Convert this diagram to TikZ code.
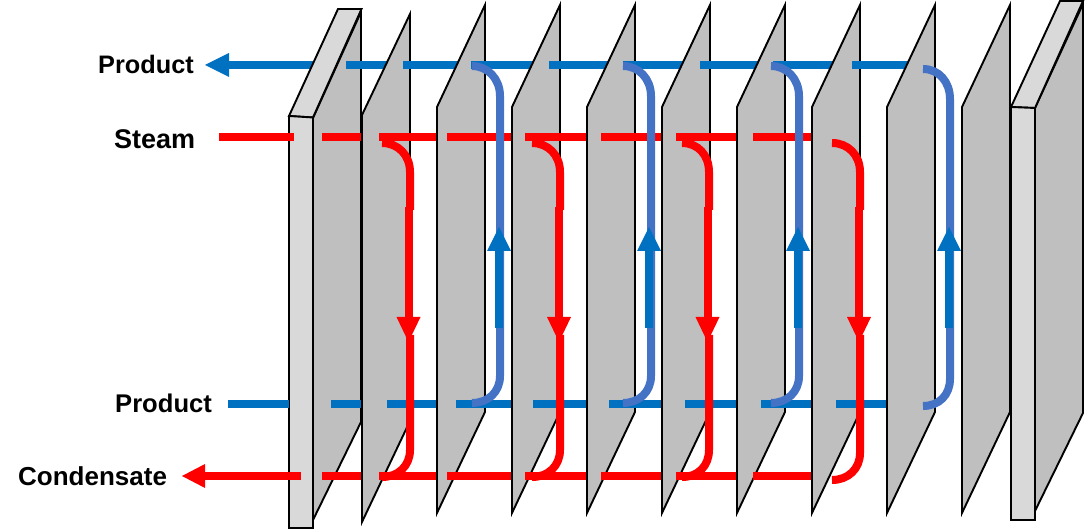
\documentclass[tikz,border=0pt]{standalone}
\usepackage{fontspec}
\setmainfont{Liberation Sans}
\definecolor{pblue}{HTML}{0070C0}
\definecolor{lblue}{HTML}{4472C4}
\definecolor{pred}{HTML}{FF0000}
\definecolor{pgray}{HTML}{BFBFBF}
\definecolor{fgray}{HTML}{D9D9D9}
\tikzset{
  plate/.style={draw=black,fill=pgray,line width=1.9pt,miter limit=20},
  endface/.style={draw=black,fill=fgray,line width=1.9pt},
  bluepipe/.style={draw=pblue,line width=8pt},
  redpipe/.style={draw=pred,line width=8pt},
  bluebend/.style={draw=lblue,line width=8pt},
  redbend/.style={draw=pred,line width=8pt},
  label/.style={font=\bfseries\fontsize{25.3}{30}\selectfont,anchor=base west,inner sep=0pt,text=black}
}
\begin{document}
\begin{tikzpicture}[x=1pt,y=-1pt]
\useasboundingbox (0,0) rectangle (1085,529);
% labels
\node[label] (ptop) at (98,74) {Product};
\node[label,font=\bfseries\fontsize{27}{30}\selectfont] (steam) at (114,148.5) {Steam};
\node[label,font=\bfseries\fontsize{25.6}{30}\selectfont] (pbot) at (115,413) {Product};
\node[label,font=\bfseries\fontsize{26}{30}\selectfont] (cond) at (18,485) {Condensate};
% top product line, behind the plates
\fill[pblue] (205,65) -- (229,53) -- (229,77) -- cycle;
\draw[bluepipe] (228,65) -- (325,65);
% left end plate
\draw[plate] (313,118) -- (361,12) -- (361,422) -- (313,520) -- cycle;
\draw[endface] (289,116) -- (338,9) -- (361.5,9) -- (313,117.5) -- cycle;
\draw[endface] (289,116) -- (313,117.5) -- (313,528) -- (289,528) -- cycle;
\draw[bluepipe] (346,65) -- (395,65);
% plate 2
\draw[plate] (362,115) -- (410,14) -- (410,421) -- (362,522) -- cycle;
\draw[bluepipe] (403,65) -- (465,65);
% middle plates with the piece of product line lying on each
\foreach \px/\sa/\sb in {437/471/540,512/549/615,587/623/690,662/700/765,737/773/840,812/852/915}{
  \draw[plate] (\px,107) -- (\px+48,5) -- (\px+48,412) -- (\px,513) -- cycle;
  \draw[bluepipe] (\sa,65) -- (\sb,65);
}
\foreach \px in {887,962}{
  \draw[plate] (\px,107) -- (\px+48,5) -- (\px+48,412) -- (\px,513) -- cycle;
}
% right end plate
\draw[plate] (1035,108) -- (1083,4) -- (1083,413) -- (1035,511) -- cycle;
\draw[endface] (1011,107) -- (1060,1) -- (1083,1) -- (1035,108) -- cycle;
\draw[endface] (1011,107) -- (1035,108) -- (1035,520) -- (1011,520) -- cycle;
% lower product line
\foreach \sa/\sb in {228/289,331/361,387/436,456/511,533/586,609/661,685/736,761/811,836/886}{
  \draw[bluepipe] (\sa,404) -- (\sb,404);
}
% steam line
\foreach \sa/\sb in {219/294,322/361,379/436,447/511,525/586,601/661,676/736,753/811}{
  \draw[redpipe] (\sa,137) -- (\sb,137);
}
% condensate line
\fill[pred] (182,476) -- (205,464) -- (205,488) -- cycle;
\foreach \sa/\sb in {204/301,322/361,379/436,447/511,525/586,601/661,676/736,753/811}{
  \draw[redpipe] (\sa,476) -- (\sb,476);
}
% product risers
\foreach \sx/\vx/\ax/\yt/\yb in {472/500/499/66/403,623/651/649/66/403,771/799/798/66/403,923/950/949/69/406}{
  \draw[bluebend] (\sx,\yt) .. controls (\sx+16,\yt) and (\vx,\yt+13) .. (\vx,\yt+30)
     -- (\vx,\yb-27) .. controls (\vx,\yb-11) and (\sx+16,\yb) .. (\sx,\yb);
  \draw[bluepipe] (\ax,328) -- (\ax,250);
  \fill[pblue] (\ax,227) -- (\ax+12,251) -- (\ax-12,251) -- cycle;
}
% steam downcomers
\foreach \sx/\vx/\ax/\yb in {382/410/408.5/477,532/560/559/477,682/709/707.5/477,832/860/859/480}{
  \draw[redbend] (\sx,143) .. controls (\sx+16,143) and (\vx,155) .. (\vx,172) -- (\vx,210);
  \draw[redpipe] (\ax,207) -- (\ax,320);
  \fill[pred] (\ax,342) -- (\ax+12,317) -- (\ax-12,317) -- cycle;
  \draw[redbend] (\vx,335) -- (\vx,\yb-27) .. controls (\vx,\yb-11) and (\sx+16,\yb) .. (\sx,\yb);
}
\end{tikzpicture}
\end{document}
